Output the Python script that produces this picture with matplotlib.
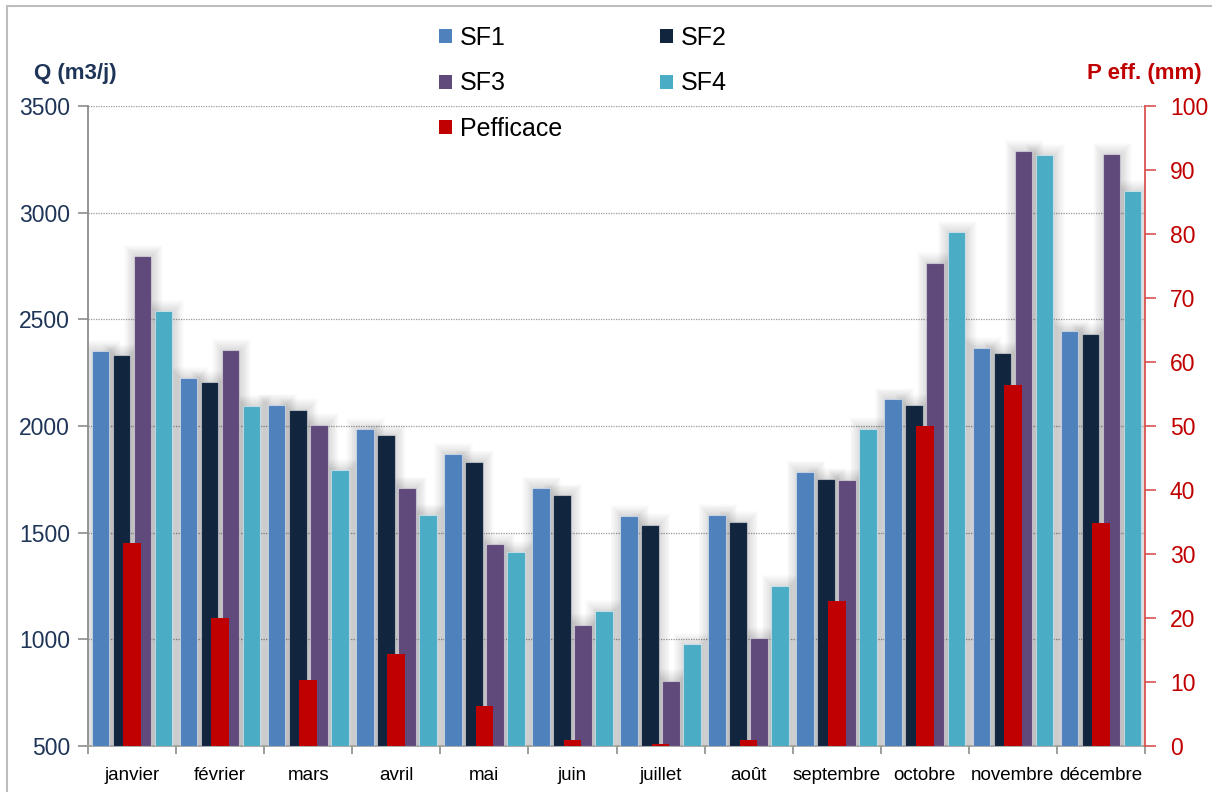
import matplotlib
matplotlib.use('Agg')
import matplotlib.pyplot as plt
import numpy as np
from matplotlib.patches import Patch, Rectangle

months = ['janvier', 'février', 'mars', 'avril', 'mai', 'juin', 'juillet',
          'août', 'septembre', 'octobre', 'novembre', 'décembre']
sf1 = [2350, 2225, 2100, 1984, 1869, 1711, 1579, 1584, 1786, 2128, 2366, 2446]
sf2 = [2334, 2205, 2077, 1956, 1833, 1678, 1538, 1550, 1750, 2098, 2342, 2430]
sf3 = [2798, 2356, 2007, 1711, 1445, 1069, 807, 1005, 1745, 2764, 3287, 3274]
sf4 = [2537, 2095, 1794, 1584, 1410, 1133, 976, 1248, 1988, 2909, 3270, 3100]
peff = [31.7, 20.0, 10.3, 14.3, 6.2, 1.0, 0.3, 1.0, 22.7, 50.0, 56.4, 34.8]
series_names = ['SF1', 'SF2', 'SF3', 'SF4']
peff_name = 'Pefficace'
left_ticks = [500, 1000, 1500, 2000, 2500, 3000, 3500]
right_ticks = [0, 10, 20, 30, 40, 50, 60, 70, 80, 90, 100]

plt.rcParams['font.family'] = ['Liberation Sans', 'DejaVu Sans']

colors = ['#4F81BD', '#12253F', '#604A7B', '#4BACC6']
red = '#C00000'
navy = '#1F3558'

W, H = 1212, 792
fig = plt.figure(figsize=(W / 100, H / 100), dpi=100)
ax = fig.add_axes([88 / W, 1 - 746 / H, (1145 - 88) / W, 640 / H])
ax2 = ax.twinx()

x = np.arange(len(months))
bw = 0.2
step = 0.2386
offsets = [-1.5 * step, -0.5 * step, 0.5 * step, 1.5 * step]
base = 500

# soft diffuse shadows behind the primary bars
for vals, off in zip([sf1, sf2, sf3, sf4], offsets):
    v = np.array(vals, dtype=float)
    for k in range(1, 13):
        ax.bar(x + off + 0.01, v - base + 4.5 * k, width=bw + 0.02 * k, bottom=base - 2,
               color='black', alpha=0.01, linewidth=0, zorder=1)

for vals, off, c, nm in zip([sf1, sf2, sf3, sf4], offsets, colors, series_names):
    v = np.array(vals, dtype=float)
    ax.bar(x + off, v - base, width=bw, bottom=base, color=c,
           edgecolor=(1, 1, 1, 0.45), linewidth=0.8, zorder=3, label=nm)

ax2.bar(x, peff, width=bw, color=red, linewidth=0, zorder=3, label=peff_name)

# axes styling
ax.set_xlim(-0.5, len(months) - 0.5)
ax.set_ylim(500, 3500)
ax2.set_ylim(0, 100)
ax.set_yticks(left_ticks)
ax2.set_yticks(right_ticks)
ax.set_axisbelow(True)
ax.yaxis.grid(True, linestyle=(0, (1, 1)), color='#9A9A9A', linewidth=0.9)

ax.set_xticks(x)
ax.set_xticklabels(months, fontsize=13.5, color='black')
ax.set_xticks(np.arange(-0.5, len(months)), minor=True)
ax.tick_params(axis='x', which='major', length=0, pad=15)
ax.tick_params(axis='x', which='minor', length=6, color='#8C8C8C', width=1.2, direction='out')
ax.tick_params(axis='y', length=7, color='#8C8C8C', width=1.2, labelsize=16.5,
               labelcolor=navy, pad=6)
ax2.tick_params(axis='y', length=8, color='#D9534F', width=1.2, labelsize=16.5,
                labelcolor=red, pad=10)

for s in ['top', 'right']:
    ax.spines[s].set_visible(False)
ax.spines['left'].set_color('#8C8C8C')
ax.spines['left'].set_linewidth(1.3)
ax.spines['bottom'].set_color('#A0A0A0')
ax.spines['bottom'].set_linewidth(1.3)
for s in ['top', 'left', 'bottom']:
    ax2.spines[s].set_visible(False)
ax2.spines['right'].set_color('#D9534F')
ax2.spines['right'].set_linewidth(1.3)

# axis titles
fig.text(75 / W, 1 - 74 / H, 'Q (m3/j)', fontsize=16, fontweight='bold', color=navy,
         ha='center', va='center')
fig.text(1144 / W, 1 - 74 / H, 'P eff. (mm)', fontsize=16, fontweight='bold', color=red,
         ha='center', va='center')

# legend
h = [Patch(facecolor=colors[0], label=series_names[0]),
     Patch(facecolor=colors[2], label=series_names[2]),
     Patch(facecolor=red, label=peff_name),
     Patch(facecolor=colors[1], label=series_names[1]),
     Patch(facecolor=colors[3], label=series_names[3])]
fig.legend(handles=h, ncol=2, loc='upper left', bbox_to_anchor=(439 / W, 1 - 26 / H),
           bbox_transform=fig.transFigure, frameon=False, fontsize=18,
           handlelength=0.5, handleheight=0.5, handletextpad=0.35,
           columnspacing=3.9, labelspacing=0.86, borderpad=0, borderaxespad=0)

# figure border (top and left visible)
fig.patches.append(Rectangle((7 / W, -0.01), 1.1, 1 - 6 / H + 0.01, transform=fig.transFigure,
                             fill=False, edgecolor='#BDBDBD', linewidth=1.5))

fig.savefig('out.png', dpi=100, facecolor='white')
